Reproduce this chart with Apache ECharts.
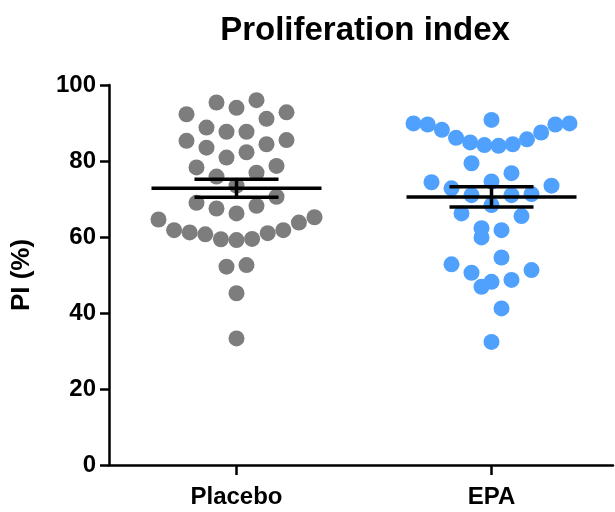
<!DOCTYPE html>
<html>
<head>
<meta charset="utf-8">
<script src="https://cdn.jsdelivr.net/npm/echarts@6/dist/echarts.min.js"></script>
<style>
html,body{margin:0;padding:0;background:#fff;}
#chart{width:615px;height:512px;}
</style>
</head>
<body>
<div id="chart"></div>
<script>
// ---- data ----
var categories = ['Placebo', 'EPA'];
var placeboValues = [
  96.0, 94.0, 95.4, 92.8, 91.1, 92.3,
  87.7, 87.7, 88.8,
  85.3, 83.5, 84.4, 85.5, 80.9, 82.3,
  78.3, 78.7, 75.9, 76.9, 73.5,
  70.6, 68.2, 66.2, 67.5, 69.0,
  64.6, 61.8, 61.2, 60.7, 59.4, 59.2, 59.5, 61.0, 61.8, 63.8, 65.2,
  52.2, 52.6, 45.2, 33.3
];
var epaValues = [
  90.8,
  89.9, 89.6, 88.2, 86.1, 84.9, 84.2, 84.0, 84.4, 85.7, 87.5, 89.6, 89.9,
  79.4, 76.8,
  74.4, 73.5, 74.6, 72.8,
  71.3, 71.0, 71.0,
  68.4, 66.2, 65.5,
  61.8, 59.9, 62.3,
  54.6, 52.8, 51.3, 50.6, 48.7, 48.2, 46.9,
  41.2, 32.4
];
var yTicks = [0, 20, 40, 60, 80, 100];
var groups = [placeboValues, epaValues];
var colors = ['#7d7d7d', '#4fa1fd'];

// ---- layout helpers (GraphPad-like binned dot plot) ----
var PX_PER_UNIT = 255;      // x-axis pixels per category unit
var BIN = 6.1;              // row bin height in data units
function swarm(values, center, rightFirst) {
  var sorted = values.slice().sort(function (a, b) { return a - b; });
  var out = [];
  var i = 0;
  while (i < sorted.length) {
    var start = sorted[i];
    var row = [];
    while (i < sorted.length && sorted[i] < start + BIN) { row.push(sorted[i]); i++; }
    var n = row.length;
    var s = n > 1 ? Math.min(20, 156 / (n - 1)) : 0;
    for (var k = 0; k < n; k++) {
      var slot;
      if (n % 2 === 1) {
        var m = Math.ceil(k / 2);
        slot = k === 0 ? 0 : ((k % 2 === 1) === rightFirst ? m : -m);
      } else {
        var m2 = Math.floor(k / 2) + 0.5;
        slot = ((k % 2 === 0) === rightFirst) ? m2 : -m2;
      }
      out.push([center + slot * s / PX_PER_UNIT, row[k]]);
    }
  }
  return out;
}
function meanSem(values) {
  var n = values.length, sum = 0;
  values.forEach(function (v) { sum += v; });
  var mean = sum / n, ss = 0;
  values.forEach(function (v) { ss += (v - mean) * (v - mean); });
  var sd = Math.sqrt(ss / (n - 1));
  return [mean, sd / Math.sqrt(n)];
}

var centers = [0.5, 1.5];
var series = [];
groups.forEach(function (vals, gi) {
  series.push({
    type: 'scatter',
    name: categories[gi],
    data: swarm(vals, centers[gi], gi === 1),
    symbol: 'circle',
    symbolSize: 16,
    itemStyle: { color: colors[gi], opacity: 1 },
    z: 2,
    silent: true
  });
});
var statData = groups.map(function (vals, gi) {
  var ms = meanSem(vals);
  return [centers[gi], ms[0], ms[1]];
});
series.push({
  type: 'custom',
  z: 5,
  silent: true,
  data: statData,
  renderItem: function (params, api) {
    var x = api.value(0), mean = api.value(1), sem = api.value(2);
    var pm = api.coord([x, mean]);
    var pt = api.coord([x, mean + sem]);
    var pb = api.coord([x, mean - sem]);
    var style = { stroke: '#000', lineWidth: 3.5, fill: null };
    return {
      type: 'group',
      children: [
        { type: 'line', shape: { x1: pm[0] - 85, y1: pm[1], x2: pm[0] + 85, y2: pm[1] }, style: style },
        { type: 'line', shape: { x1: pt[0] - 42, y1: pt[1], x2: pt[0] + 42, y2: pt[1] }, style: style },
        { type: 'line', shape: { x1: pb[0] - 42, y1: pb[1], x2: pb[0] + 42, y2: pb[1] }, style: style },
        { type: 'line', shape: { x1: pt[0], y1: pt[1], x2: pb[0], y2: pb[1] }, style: style }
      ]
    };
  }
});

var fontFam = '"Liberation Sans", Arial, sans-serif';
var chart = echarts.init(document.getElementById('chart'), null, { renderer: 'canvas' });
chart.setOption({
  animation: false,
  backgroundColor: '#fff',
  title: {
    text: 'Proliferation index',
    left: 360,
    top: 9,
    textAlign: 'center',
    textStyle: { fontFamily: fontFam, fontWeight: 'bold', fontSize: 33, color: '#000' }
  },
  grid: { left: 109, right: 2, top: 85, bottom: 47, containLabel: false },
  xAxis: {
    type: 'value',
    min: 0,
    max: 504 / PX_PER_UNIT,
    splitLine: { show: false },
    axisLine: { show: true, lineStyle: { color: '#000', width: 2.5 } },
    axisTick: { show: true, customValues: centers, length: 10, lineStyle: { color: '#000', width: 2.5 } },
    axisLabel: {
      show: true,
      customValues: centers,
      margin: 20,
      formatter: function (v) { return v < 1 ? categories[0] : categories[1]; },
      fontFamily: fontFam, fontWeight: 'bold', fontSize: 24, color: '#000'
    }
  },
  yAxis: {
    type: 'value',
    min: yTicks[0],
    max: yTicks[yTicks.length - 1],
    interval: 20,
    name: 'PI (%)',
    nameLocation: 'middle',
    nameGap: 74,
    nameTextStyle: { fontFamily: fontFam, fontWeight: 'bold', fontSize: 26, color: '#000' },
    splitLine: { show: false },
    axisLine: { show: true, lineStyle: { color: '#000', width: 2.5 } },
    axisTick: { show: true, length: 9, lineStyle: { color: '#000', width: 2.5 } },
    axisLabel: { margin: 13, fontFamily: fontFam, fontWeight: 'bold', fontSize: 24, color: '#000' }
  },
  series: series
});
</script>
</body>
</html>
